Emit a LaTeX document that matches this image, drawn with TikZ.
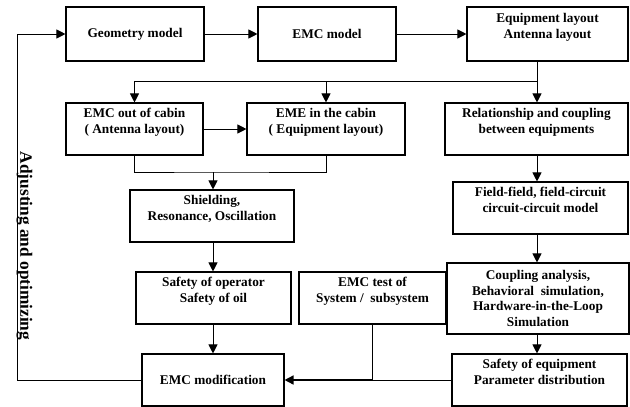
\documentclass[tikz,border=0pt]{standalone}
\usepackage{fontspec}
\setmainfont{Liberation Serif}
\usetikzlibrary{arrows.meta}

\tikzset{
  box/.style={draw,line width=1.1pt,align=center,inner sep=2pt,
    font=\fontsize{13.3}{15.5}\selectfont\bfseries},
  lift/.style={text depth=16pt},
  link/.style={line width=1pt},
}

\begin{document}
\begin{tikzpicture}[x=1pt,y=-1pt,>={Triangle[length=9pt,width=9pt]}]
  \useasboundingbox (0,0) rectangle (630,407);
  % top row
  \node[box,minimum width=138,minimum height=54] (geo) at (135,34) {Geometry model};
  \node[box,minimum width=138,minimum height=54] (emc) at (327,34) {EMC model};
  \node[box,lift,minimum width=161,minimum height=54] (lay) at (547.5,34) {Equipment layout\\Antenna layout};
  % second row
  \node[box,lift,minimum width=137,minimum height=52] (out) at (134.5,129) {EMC out of cabin\\( Antenna layout)};
  \node[box,lift,minimum width=158,minimum height=52] (eme) at (326,129) {EME in the cabin\\( Equipment layout)};
  \node[box,lift,minimum width=183,minimum height=52] (rel) at (536.5,129) {Relationship and coupling\\between equipments};
  % middle
  \node[box,lift,minimum width=164,minimum height=52] (shd) at (212,216) {Shielding,\\Resonance, Oscillation};
  \node[box,lift,minimum width=175,minimum height=52] (fld) at (540.5,208) {Field-field, field-circuit\\circuit-circuit model};
  \node[box,lift,minimum width=155,minimum height=52] (saf) at (213.5,298) {Safety of operator\\Safety of oil};
  \node[box,lift,minimum width=147,minimum height=52] (tst) at (372.5,298) {EMC test of\\System /~ subsystem};
  \node[box,minimum width=182,minimum height=71] (cpl) at (538,298.5) {Coupling analysis,\\Behavioral~ simulation,\\Hardware-in-the-Loop\\Simulation};
  % bottom row
  \node[box,minimum width=142,minimum height=52] (mod) at (213,380) {EMC modification};
  \node[box,lift,minimum width=175,minimum height=52] (seq) at (539.5,380) {Safety of equipment\\Parameter distribution};
  % side text
  \node[rotate=-90,font=\fontsize{17.3}{20}\selectfont\bfseries] (adj) at (24.5,246) {Adjusting and optimizing};

  \draw[link,->] (geo.east) -- (emc.west);
  \draw[link,->] (emc.east) -- (lay.west);
  \coordinate (br) at (537,81);
  \draw[link] (lay.south -| br) -- (br);
  \draw[link,->] (br) -| (out.north);
  \draw[link,->] (br -| eme.north) -- (eme.north);
  \draw[link,->] (br) -- (br |- rel.north);
  \draw[link,->] (out.east) -- (eme.west);
  \coordinate (jn) at (213,172);
  \draw[link] (out.south) |- (jn) -| (eme.south);
  \draw[link,->] (jn) -- (jn |- shd.north);
  \draw[link,->] (jn |- shd.south) -- (jn |- saf.north);
  \draw[link,->] (mod.north |- saf.south) -- (mod.north);
  \draw[link,->] (br |- rel.south) -- (br |- fld.north);
  \draw[link,->] (br |- fld.south) -- (br |- cpl.north);
  \draw[link,->] (br |- cpl.south) -- (br |- seq.north);
  \draw[link] (seq.west) -- (tst.south |- seq.west);
  \draw[link] (tst.south) -- (tst.south |- mod.east);
  \draw[line width=1.5pt,->] (tst.south |- mod.east) -- (mod.east);
  \coordinate (lp) at (17,380);
  \draw[link,->] (mod.west) -- (lp) |- (geo.west);
\end{tikzpicture}
\end{document}
